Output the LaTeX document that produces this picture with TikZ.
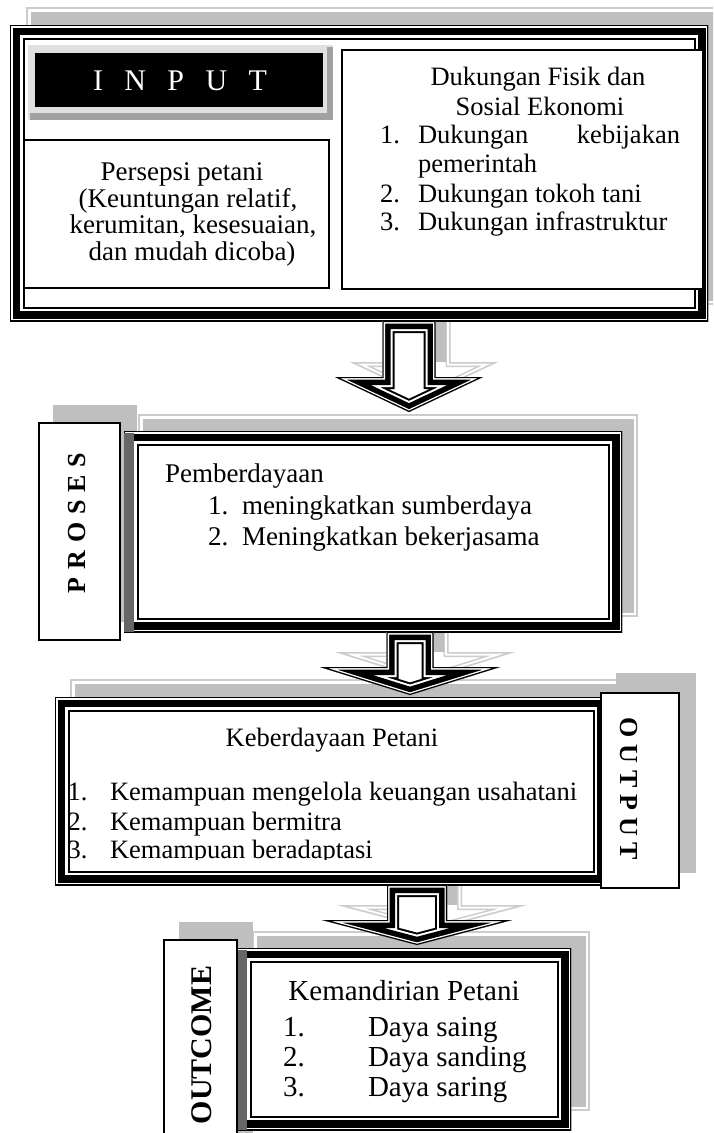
\documentclass[tikz,border=0pt]{standalone}
\usepackage{fontspec}
\setmainfont{Liberation Serif}
\definecolor{shgray}{gray}{0.75}
\definecolor{shlight}{gray}{0.80}
\definecolor{lgray}{gray}{0.88}
\definecolor{mgray}{gray}{0.63}
\definecolor{dgray}{gray}{0.40}
\newcommand{\shadowrect}[4]{%
  \draw[draw=shlight,line width=1.2pt,fill=white] (#1,#2) rectangle (#3,#4);
  \fill[shgray] ({#1+3.5},{#2+3.5}) rectangle ({#3-3.5},{#4-3.5});}
\newcommand{\frameBox}[5]{%
  \begin{scope}
    \clip (#1,#2) rectangle (#3,#4);
    \fill[white] (#1,#2) rectangle (#3,#4);
    \draw[black,line width=29pt] (#1,#2) rectangle (#3,#4);
    \draw[white,line width=25pt] (#1,#2) rectangle (#3,#4);
    \draw[black,line width=20pt] (#1,#2) rectangle (#3,#4);
    \draw[white,line width=5pt] (#1,#2) rectangle (#3,#4);
    \draw[black,line width=2.4pt] (#1,#2) rectangle (#3,#4);
    \ifnum#5=1
      \fill[dgray] (#1,{#2+2}) rectangle ({#1+10},#4);
    \fi
  \end{scope}}
\newcommand{\apath}[6]{({#1-#3},#2) -- ({#1+#3},#2) -- ({#1+#3},#4) -- ({#1+#5},#4) -- (#1,#6) -- ({#1-#5},#4) -- ({#1-#3},#4) -- cycle}
\newcommand{\blockarrow}[6]{%
  \begin{scope}
    \clip \apath{#1}{#2}{#3}{#4}{#5}{#6};
    \fill[white] \apath{#1}{#2}{#3}{#4}{#5}{#6};
    \draw[black,line width=24pt] \apath{#1}{#2}{#3}{#4}{#5}{#6};
    \draw[white,line width=20pt] \apath{#1}{#2}{#3}{#4}{#5}{#6};
    \draw[black,line width=16pt] \apath{#1}{#2}{#3}{#4}{#5}{#6};
    \draw[white,line width=5pt] \apath{#1}{#2}{#3}{#4}{#5}{#6};
    \draw[black,line width=2.4pt] \apath{#1}{#2}{#3}{#4}{#5}{#6};
  \end{scope}}
\newcommand{\shadowarrow}[6]{%
  \begin{scope}
    \clip \apath{#1}{#2}{#3}{#4}{#5}{#6};
    \fill[white] \apath{#1}{#2}{#3}{#4}{#5}{#6};
    \draw[shlight,line width=10pt] \apath{#1}{#2}{#3}{#4}{#5}{#6};
    \draw[white,line width=7pt] \apath{#1}{#2}{#3}{#4}{#5}{#6};
    \draw[shlight,line width=3pt] \apath{#1}{#2}{#3}{#4}{#5}{#6};
  \end{scope}
  \fill[shgray] ({#1-#3+5},#2) rectangle ({#1+#3-5},#4);}
\begin{document}
\begin{tikzpicture}[x=1pt,y=-1pt,
  bx/.style={draw=black,line width=1.5pt,fill=white,inner sep=0pt,anchor=north west},
  t/.style={inner sep=0pt,outer sep=0pt,anchor=base,font=\fontsize{26.5}{29}\selectfont},
  tw/.style={t,anchor=base west},
  te/.style={t,anchor=base east},
  tp/.style={t,font=\fontsize{27}{27}\selectfont},
  tpw/.style={tp,anchor=base west},
  tbig/.style={t,font=\fontsize{29}{31}\selectfont},
  tbigw/.style={tbig,anchor=base west},
  lab/.style={inner sep=0pt,outer sep=0pt,anchor=base,font=\bfseries\fontsize{26}{26}\selectfont}]
\useasboundingbox (0,0) rectangle (713,1133);
\clip (0,0) rectangle (713,1133);

% ---------- shadows ----------
\shadowrect{27}{8}{725}{304}
\shadowrect{139}{415}{637}{616}
\fill[shgray] (53,405) rectangle (137,622);
\shadowrect{71}{680}{626}{870}
\fill[shgray] (616,673) rectangle (696,873);
\shadowrect{253}{932}{589}{1110}
\fill[shgray] (179,922) rectangle (253,1140);

% ---------- shadow arrows ----------
\shadowarrow{424}{306}{26.5}{362}{74}{397}
\shadowarrow{425}{617}{23.5}{652}{90}{680}
\shadowarrow{432}{870}{30}{905}{95}{930}

% ---------- frames ----------
\frameBox{10}{25}{708}{321}{0}
\frameBox{124}{431}{622}{632}{1}
\frameBox{55}{697}{607}{885}{0}
\frameBox{237}{948}{571}{1130}{1}

% ---------- arrows ----------
\blockarrow{409}{321}{26.5}{377}{74}{412}
\blockarrow{410}{632}{23.5}{667}{90}{695}
\blockarrow{417}{885}{30}{920}{95}{945}

% ---------- INPUT ----------
\fill[lgray] (28,45) rectangle (333,120);
\fill[mgray] (30,113) rectangle (333,120);
\fill[mgray] (327,47) rectangle (333,120);
\node[fill=black,inner sep=0pt,anchor=north west,minimum width=288,minimum height=54] (inputbg) at (35,53) {};
\node[t,text=white,font=\fontsize{30}{30}\selectfont] (inputtxt) at (180,90) {I\hspace{21.4pt}N\hspace{21.4pt}P\hspace{21.4pt}U\hspace{21.4pt}T};

\node[bx,minimum width=305,minimum height=148] (persepsi) at (23,139) {};
\node[tp] (pers1) at (182,180) {Persepsi petani};
\node[tp] (pers2) at (188,207) {(Keuntungan relatif,};
\node[tp] (pers3) at (193,233) {kerumitan, kesesuaian,};
\node[tp] (pers4) at (192,260) {dan mudah dicoba)};

\node[bx,minimum width=361,minimum height=239] (dukungan) at (341,49) {};
\node[t] (duk1) at (538,85) {Dukungan Fisik dan};
\node[t] (duk2) at (540,115) {Sosial Ekonomi};
\node[tw] (dukn1) at (380,143) {1.};
\node[tw] (duka) at (418,143) {Dukungan};
\node[te] (dukb) at (680,143) {kebijakan};
\node[tw] (dukc) at (418,172) {pemerintah};
\node[tw] (dukn2) at (380,202) {2.};
\node[tw] (dukd) at (418,202) {Dukungan tokoh tani};
\node[tw] (dukn3) at (380,230) {3.};
\node[tw] (duke) at (418,230) {Dukungan infrastruktur};

% ---------- PROSES ----------
\node[bx,minimum width=81,minimum height=217] (proseslab) at (38,422) {};
\node[lab,rotate=90] (prosestxt) at (85,523) {P\hspace{7.8pt}R\hspace{7.8pt}O\hspace{7.8pt}S\hspace{7.8pt}E\hspace{7.8pt}S};
\node[tpw] (pro0) at (165,482) {Pemberdayaan};
\node[tpw] (pron1) at (208,514) {1.};
\node[tpw] (pro1) at (242,514) {meningkatkan sumberdaya};
\node[tpw] (pron2) at (208,545) {2.};
\node[tpw] (pro2) at (242,545) {Meningkatkan bekerjasama};

% ---------- OUTPUT ----------
\node[bx,minimum width=78,minimum height=195] (outputlab) at (600,692) {};
\node[lab,rotate=-90] (outputtxt) at (620,789) {O\hspace{6.8pt}U\hspace{6.8pt}T\hspace{6.8pt}P\hspace{6.8pt}U\hspace{6.8pt}T};
\node[t] (out0) at (332,746) {Keberdayaan Petani};
\begin{scope}
  \clip (69.5,708) rectangle (596,859.5);
  \node[tw] (outn1) at (67.5,800) {1.};
  \node[tw] (out1) at (110,800) {Kemampuan mengelola keuangan usahatani};
  \node[tw] (outn2) at (67.5,830) {2.};
  \node[tw] (out2) at (110,830) {Kemampuan bermitra};
  \node[tw] (outn3) at (67.5,858) {3.};
  \node[tw] (out3) at (110,858) {Kemampuan beradaptasi};
\end{scope}

% ---------- OUTCOME ----------
\node[bx,minimum width=73,minimum height=205] (outcomelab) at (163,939) {};
\node[lab,rotate=90,font=\bfseries\fontsize{30}{30}\selectfont] (outcometxt) at (211,1045) {OUTCOME};
\node[tbig] (oc0) at (404,1000) {Kemandirian Petani};
\node[tbigw] (ocn1) at (283,1036) {1.};
\node[tbigw] (oc1) at (368,1036) {Daya saing};
\node[tbigw] (ocn2) at (283,1066) {2.};
\node[tbigw] (oc2) at (368,1066) {Daya sanding};
\node[tbigw] (ocn3) at (283,1096) {3.};
\node[tbigw] (oc3) at (368,1096) {Daya saring};
\end{tikzpicture}
\end{document}
